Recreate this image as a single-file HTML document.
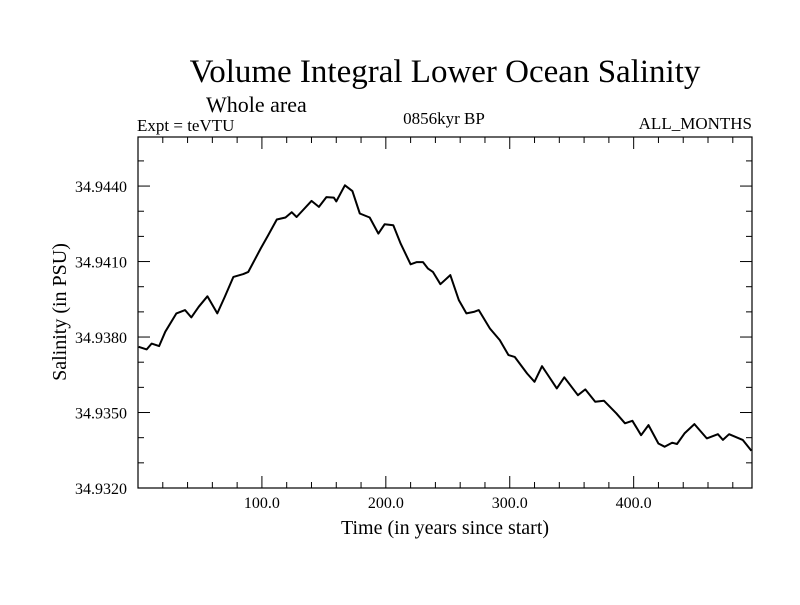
<!DOCTYPE html>
<html><head><meta charset="utf-8"><style>
body{margin:0;background:#fff}
svg text{font-family:"Liberation Serif",serif;fill:#000}
</style></head><body>
<svg id="chart" width="800" height="600" xmlns="http://www.w3.org/2000/svg">
<rect width="800" height="600" fill="#fff"/>
<text x="445" y="82" font-size="33" text-anchor="middle">Volume Integral Lower Ocean Salinity</text>
<text x="206" y="112" font-size="22">Whole area</text>
<text x="137" y="131" font-size="17">Expt = teVTU</text>
<text x="444" y="124" font-size="17" text-anchor="middle">0856kyr BP</text>
<text x="752" y="129" font-size="17" text-anchor="end">ALL_MONTHS</text>
<g id="axes"></g>
<text x="445" y="534" font-size="20" text-anchor="middle">Time (in years since start)</text>
<text transform="translate(66,312) rotate(-90)" font-size="20" text-anchor="middle">Salinity (in PSU)</text>
</svg>
<script>
const years=[0.5,7,11,17,22,31,38,43,49,56,64,70,77,85,89,99,105,112,119,124,128,140,146,152,158,160,167,173,179,187,194,199,206,212,220,225,230,234,238,244,252,259,265,271,275,284,292,299,304,314,320,326,330,338,344,355,361,369,376,386,393,399,406,412,420,425,431,435,441,449,459,468,472,477,488,495];
const salinity=[34.93761,34.93751,34.93774,34.93764,34.93821,34.93894,34.93907,34.93878,34.93920,34.93962,34.93894,34.93959,34.94039,34.94050,34.94059,34.94152,34.94204,34.94267,34.94275,34.94296,34.94277,34.94341,34.94317,34.94356,34.94354,34.94339,34.94403,34.94380,34.94291,34.94275,34.94211,34.94248,34.94244,34.94171,34.94089,34.94098,34.94098,34.94072,34.94059,34.94010,34.94046,34.93946,34.93894,34.93900,34.93907,34.93834,34.93788,34.93728,34.93721,34.93655,34.93622,34.93684,34.93655,34.93596,34.93640,34.93569,34.93592,34.93543,34.93547,34.93497,34.93457,34.93467,34.93410,34.93450,34.93377,34.93364,34.93380,34.93375,34.93417,34.93454,34.93397,34.93414,34.93391,34.93414,34.93391,34.93348];
const xTickLabels=["100.0","200.0","300.0","400.0"];
const xTickValues=[100,200,300,400];
const yTickLabels=["34.9320","34.9350","34.9380","34.9410","34.9440"];
const yTickValues=[34.9320,34.9350,34.9380,34.9410,34.9440];

const L=138,R=752,T=137,B=488,X0=0,X1=495.5,Y0=34.9320,Y1=34.94595;
const sx=v=>L+(v-X0)/(X1-X0)*(R-L);
const sy=v=>B-(v-Y0)/(Y1-Y0)*(B-T);
const NS="http://www.w3.org/2000/svg";
const g=document.getElementById('axes');
function mk(t,a){const e=document.createElementNS(NS,t);for(const k in a)e.setAttribute(k,a[k]);g.appendChild(e);return e;}
// minor/major ticks
for(let v=20;v<X1;v+=20){
  const major=Math.abs(v%100)<1e-6;const len=major?12:6;
  const t1=mk('line',{x1:sx(v),x2:sx(v),y1:B,y2:B-len,stroke:'#000','stroke-width':1});
  
  
  const t2=mk('line',{x1:sx(v),x2:sx(v),y1:T,y2:T+len,stroke:'#000','stroke-width':1});
  
  
}
for(let i=1;i<14;i++){
  const v=Y0+i*0.001;const major=i%3===0;const len=major?12:6;
  const t1=mk('line',{x1:L,x2:L+len,y1:sy(v),y2:sy(v),stroke:'#000','stroke-width':1});
  
  
  const t2=mk('line',{x1:R,x2:R-len,y1:sy(v),y2:sy(v),stroke:'#000','stroke-width':1});
  
  
}
xTickLabels.forEach((lab,i)=>{
  const t=mk('text',{x:sx(xTickValues[i]),y:508,'font-size':16,'text-anchor':'middle'});
  t.textContent=lab;
  
  
});
yTickLabels.forEach((lab,i)=>{
  const t=mk('text',{x:127,y:sy(yTickValues[i])+6,'font-size':16,'text-anchor':'end'});
  t.textContent=lab;
  
  
});
const line=mk('polyline',{points:years.map((y,i)=>sx(y).toFixed(1)+','+sy(salinity[i]).toFixed(1)).join(' '),fill:'none',stroke:'#000','stroke-width':2,'stroke-linejoin':'round'});


const fr=mk('rect',{x:L,y:T,width:R-L,height:B-T,fill:'none',stroke:'#000','stroke-width':1.2});


</script>
</body></html>
